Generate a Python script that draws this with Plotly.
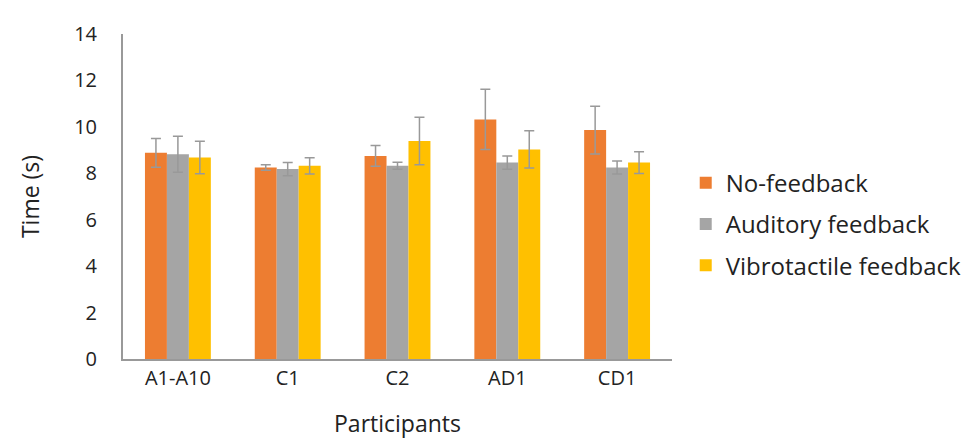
import plotly.graph_objects as go

categories = ["A1-A10", "C1", "C2", "AD1", "CD1"]
no_feedback = [8.88, 8.25, 8.75, 10.32, 9.86]
no_feedback_err = [0.62, 0.12, 0.45, 1.30, 1.03]
auditory = [8.82, 8.18, 8.32, 8.46, 8.25]
auditory_err = [0.78, 0.29, 0.15, 0.29, 0.28]
vibrotactile = [8.68, 8.32, 9.39, 9.03, 8.46]
vibrotactile_err = [0.70, 0.35, 1.02, 0.80, 0.47]

series = [
    ("No-feedback", no_feedback, no_feedback_err, "#ED7D31"),
    ("Auditory feedback", auditory, auditory_err, "#A5A5A5"),
    ("Vibrotactile feedback", vibrotactile, vibrotactile_err, "#FFC000"),
]

fig = go.Figure()
for name, vals, errs, color in series:
    fig.add_trace(go.Bar(
        name=name, x=categories, y=vals, marker_color=color,
        marker_line_width=0, legendgroup=name,
        error_y=dict(type="data", array=errs, visible=True, color="#999999",
                     thickness=1.5, width=5),
    ))

font_family = "Open Sans, sans-serif"
fig.update_layout(
    width=971, height=440,
    margin=dict(l=115, r=303, t=24, b=89),
    barmode="group", bargap=0.4, bargroupgap=0,
    plot_bgcolor="white", paper_bgcolor="white",
    font=dict(family=font_family, size=20, color="#222222"),
    legend=dict(x=1.025, y=0.415, xanchor="left", yanchor="middle",
                font=dict(size=24, color="#222222"), tracegroupgap=7),
    xaxis=dict(showline=True, linecolor="#999999", linewidth=2,
               ticks="", showgrid=False,
               title=dict(text="Participants", font=dict(size=23), standoff=26),
               tickfont=dict(size=20)),
    yaxis=dict(showline=True, linecolor="#999999", linewidth=2,
               range=[0, 14], dtick=2, ticks="", showgrid=False, zeroline=False,
               ticklabelstandoff=20,
               title=dict(text="Time (s)", font=dict(size=23), standoff=28),
               tickfont=dict(size=20)),
)

fig.write_html("out.html")
